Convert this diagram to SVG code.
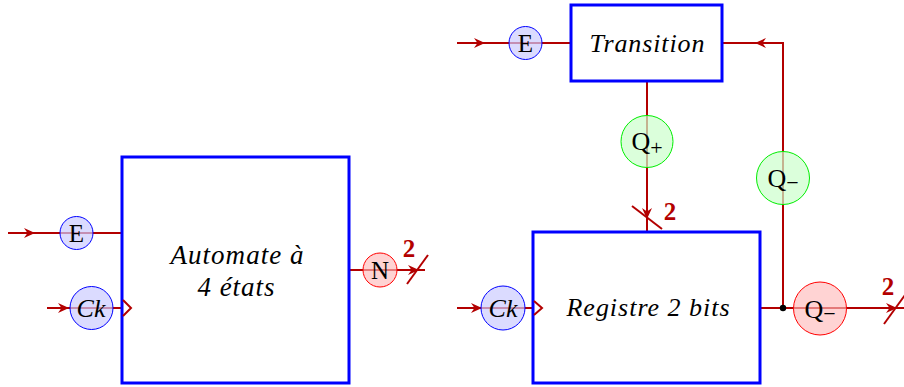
<svg xmlns="http://www.w3.org/2000/svg" width="904" height="387" viewBox="0 0 904 387">
<style>
.box{fill:#fff;stroke:#0000ff;stroke-width:3}
.w{fill:none;stroke:#b30000;stroke-width:2}
.ah{fill:#b30000;stroke:none}
.cb{fill:#ccccff;fill-opacity:0.7;stroke:#0000ff;stroke-width:1}
.cr{fill:#ffbbbb;fill-opacity:0.65;stroke:#ff0000;stroke-width:1}
.cg{fill:#ccffcc;fill-opacity:0.7;stroke:#00ee00;stroke-width:1}
text{font-family:'Liberation Serif',serif}
.t{fill:#000;text-anchor:middle}
.it{font-style:italic}
.lb{fill:#b30000;font-size:25px;font-weight:bold;text-anchor:middle}
.clk{fill:none;stroke:#b30000;stroke-width:2}
</style>
<defs>
<path id="ah" d="M1,0 L-10,-5 L-6.5,0 L-10,5 Z"/>
</defs>
<g id="connectors">
<line class="w" x1="8" y1="233" x2="122" y2="233"/>
<use href="#ah" class="ah" transform="translate(34,233)"/>
<line class="w" x1="47" y1="308" x2="122" y2="308"/>
<use href="#ah" class="ah" transform="translate(68,308)"/>
<line class="w" x1="349" y1="270" x2="425" y2="270"/>
<use href="#ah" class="ah" transform="translate(418,270)"/>
<line class="w" x1="407" y1="284" x2="428" y2="255"/>
<line class="w" x1="457" y1="43" x2="571" y2="43"/>
<use href="#ah" class="ah" transform="translate(484,43)"/>
<line class="w" x1="647" y1="81" x2="647" y2="232"/>
<use href="#ah" class="ah" transform="translate(647,218) rotate(90)"/>
<line class="w" x1="632" y1="206" x2="662" y2="229"/>
<line class="w" x1="457" y1="308" x2="533" y2="308"/>
<use href="#ah" class="ah" transform="translate(481,308)"/>
<polyline class="w" points="722,43 783,43 783,308"/>
<use href="#ah" class="ah" transform="translate(756,43) rotate(180)"/>
<line class="w" x1="760" y1="308" x2="904" y2="308"/>
<use href="#ah" class="ah" transform="translate(896,308)"/>
<line class="w" x1="884" y1="324" x2="905" y2="295"/>
<circle cx="783" cy="308" r="3.2" fill="#000"/>
<text class="lb" x="409" y="257" font-family="Liberation Serif, serif">2</text>
<text class="lb" x="670" y="220" font-family="Liberation Serif, serif">2</text>
<text class="lb" x="888" y="295" font-family="Liberation Serif, serif">2</text>
</g>
<g id="automate">
<rect class="box" x="122" y="157" width="227" height="226"/>
<text class="t it" x="237" y="264" font-size="27" font-family="Liberation Serif, serif" textLength="133">Automate à</text>
<text class="t it" x="236" y="296" font-size="27" font-family="Liberation Serif, serif" textLength="77">4 états</text>
<path class="clk" d="M123,300 L131,308 L123,316"/>
</g>
<g id="E1">
<circle class="cb" cx="76.5" cy="233" r="16.5"/>
<text class="t" x="76.5" y="241.5" font-size="25" font-family="Liberation Serif, serif">E</text>
</g>
<g id="Ck1">
<circle class="cb" cx="91.5" cy="308" r="21.5"/>
<text class="t it" x="91" y="317" font-size="26" font-family="Liberation Serif, serif">Ck</text>
</g>
<g id="N">
<circle class="cr" cx="380" cy="270" r="17"/>
<text class="t" x="380" y="278.5" font-size="25" font-family="Liberation Serif, serif">N</text>
</g>
<g id="transition">
<rect class="box" x="571" y="5" width="151" height="76"/>
<text class="t it" x="647" y="52" font-size="26" font-family="Liberation Serif, serif" textLength="115">Transition</text>
</g>
<g id="E2">
<circle class="cb" cx="525.5" cy="43" r="16.5"/>
<text class="t" x="525.5" y="51.5" font-size="25" font-family="Liberation Serif, serif">E</text>
</g>
<g id="Qplus">
<circle class="cg" cx="647" cy="141.5" r="26"/>
<text class="t" x="647" y="150" font-size="26" font-family="Liberation Serif, serif">Q<tspan font-size="22" dy="5">+</tspan></text>
</g>
<g id="registre">
<rect class="box" x="533" y="232" width="227" height="151"/>
<text class="t it" x="648" y="316" font-size="26" font-family="Liberation Serif, serif" textLength="163">Registre 2 bits</text>
<path class="clk" d="M534,301 L542,308 L534,315"/>
</g>
<g id="Ck2">
<circle class="cb" cx="503" cy="308" r="22"/>
<text class="t it" x="503" y="317" font-size="26" font-family="Liberation Serif, serif">Ck</text>
</g>
<g id="Qminus1">
<circle class="cg" cx="783" cy="178" r="26.5"/>
<text class="t" x="783" y="187" font-size="26" font-family="Liberation Serif, serif">Q<tspan font-size="22" dy="3">−</tspan></text>
</g>
<g id="Qminus2">
<circle class="cr" cx="820" cy="308.5" r="26.5"/>
<text class="t" x="820" y="317.5" font-size="26" font-family="Liberation Serif, serif">Q<tspan font-size="22" dy="3">−</tspan></text>
</g>
</svg>
